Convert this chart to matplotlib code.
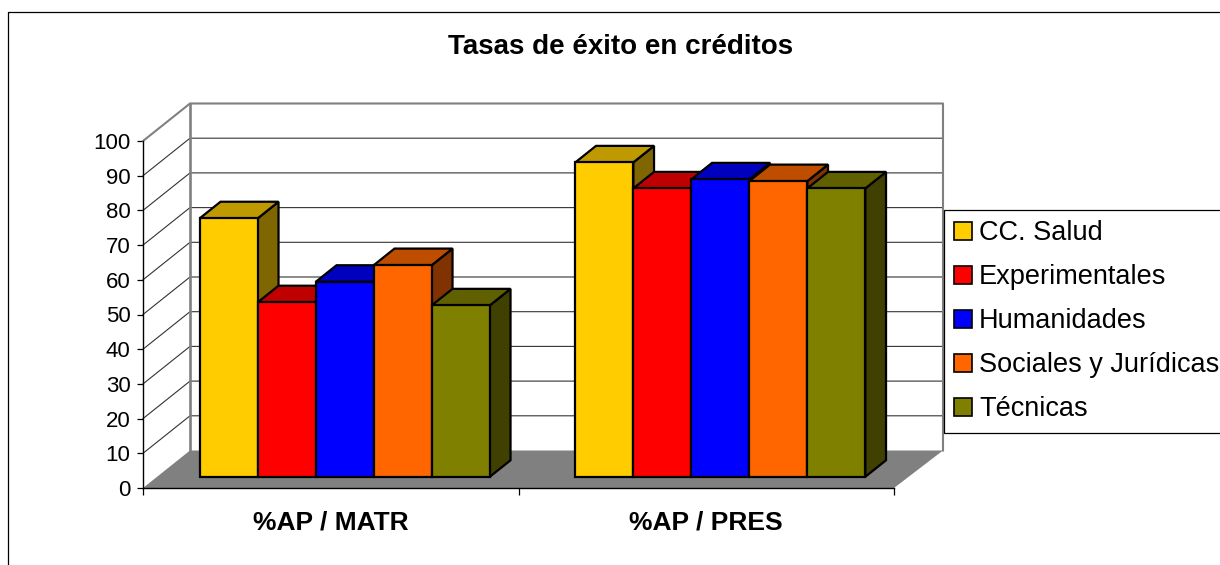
import matplotlib
matplotlib.use('Agg')
import matplotlib.pyplot as plt
from matplotlib.lines import Line2D
from matplotlib.patches import Patch, Polygon

plt.rcParams['font.family'] = ['Liberation Sans', 'DejaVu Sans']

# Datos
categorias = ['%AP / MATR', '%AP / PRES']
series = ['CC. Salud', 'Experimentales', 'Humanidades', 'Sociales y Jurídicas', 'Técnicas']
ap_matr = [74.5, 50.3, 56.2, 61.0, 49.4]
ap_pres = [90.6, 83.1, 85.7, 85.2, 83.1]
valores_y = [0, 10, 20, 30, 40, 50, 60, 70, 80, 90, 100]

colores = ['#FFCC00', '#FF0000', '#0000FF', '#FF6600', '#808000']
techos = ['#BF9900', '#BF0000', '#0000BF', '#BF4D00', '#606000']
lados = ['#806600', '#800000', '#000080', '#803300', '#404000']

W, H = 1220, 565
fig = plt.figure(figsize=(W / 100, H / 100), dpi=100)
ax = fig.add_axes([143 / W, 1 - 488 / H, 751 / W, 347 / H])
ax.set_xlim(0, 2)
ax.set_ylim(0, 100)
ax.patch.set_visible(False)

# Profundidad del falso 3D, en unidades de los ejes
prof_x = 47 / 375.5
prof_y = 37.5 / 3.47
fin_x = 2 + 49 / 375.5
gris = '#808080'

# Paredes y suelo
ax.add_patch(Polygon([(0, 0), (prof_x, prof_y), (prof_x, 100 + prof_y), (0, 100)],
                     facecolor='white', edgecolor='none', clip_on=False, zorder=1))
ax.add_patch(Polygon([(0, 0), (2, 0), (fin_x, prof_y), (prof_x, prof_y)],
                     facecolor=gris, edgecolor='none', clip_on=False, zorder=1))

# Rejilla en las paredes
for v in valores_y[1:-1]:
    ax.plot([0, prof_x, fin_x], [v, v + prof_y, v + prof_y], color='#333333', lw=0.8,
            clip_on=False, zorder=2)
ax.plot([0, prof_x, fin_x, fin_x], [100, 100 + prof_y, 100 + prof_y, prof_y],
        color=gris, lw=1.5, clip_on=False, zorder=2)
ax.plot([prof_x, prof_x], [prof_y, 100 + prof_y], color=gris, lw=1.9, clip_on=False, zorder=2)

# Barras
ancho = 58 / 375.5
z_frente = 0.30
z_fondo = 0.74


def barra(x0, valor, i, orden):
    x1 = x0 + ancho
    base = z_frente * prof_y
    dx = (z_fondo - z_frente) * prof_x
    dy = (z_fondo - z_frente) * prof_y
    estilo = dict(edgecolor='black', lw=1.6, joinstyle='miter', clip_on=False, zorder=orden)
    ax.add_patch(Polygon([(x1, base), (x1 + dx, base + dy), (x1 + dx, base + valor + dy), (x1, base + valor)],
                         facecolor=lados[i], **estilo))
    ax.add_patch(Polygon([(x0, base + valor), (x1, base + valor), (x1 + dx, base + valor + dy), (x0 + dx, base + valor + dy)],
                         facecolor=techos[i], **estilo))
    ax.add_patch(Polygon([(x0, base), (x1, base), (x1, base + valor), (x0, base + valor)],
                         facecolor=colores[i], **estilo))


orden = 3
for g, grupo in enumerate([ap_matr, ap_pres]):
    inicio = g + 0.5 - ancho * len(grupo) / 2 + z_frente * prof_x
    for i, valor in enumerate(grupo):
        barra(inicio + i * ancho, valor, i, orden)
        orden += 1

# Ejes
for lado in ['top', 'right']:
    ax.spines[lado].set_visible(False)
for lado in ['left', 'bottom']:
    ax.spines[lado].set_linewidth(1.0)
    ax.spines[lado].set_zorder(30)
ax.set_yticks(valores_y)
ax.tick_params(axis='y', length=4, width=0.9, pad=5, labelsize=16)
ax.set_xticks([0, 1, 2])
ax.set_xticklabels([])
ax.set_xticks([0.5, 1.5], minor=True)
ax.set_xticklabels(categorias, minor=True, fontweight='bold', fontsize=19)
ax.tick_params(axis='x', which='major', length=5, width=0.9)
ax.tick_params(axis='x', which='minor', length=0, pad=16.5)

fig.text(621 / W, 1 - 47 / H, 'Tasas de éxito en créditos', fontsize=20, fontweight='bold',
         ha='center', va='center')

# Leyenda
manejadores = [Patch(facecolor=c, edgecolor='black', lw=1.2) for c in colores]
ley = fig.legend(manejadores, series, loc='upper left', bbox_to_anchor=(944 / W, 1 - 210 / H),
                 bbox_transform=fig.transFigure, borderaxespad=0, fontsize=19.5, fancybox=False,
                 edgecolor='black', framealpha=1, handlelength=0.64, handleheight=0.64,
                 handletextpad=0.27, labelspacing=0.665, borderpad=0.38)
ley.get_frame().set_linewidth(0.9)

# Borde del gráfico, cortado por la imagen
fig.add_artist(Line2D([8 / W, 8 / W, 1], [0, 1 - 12 / H, 1 - 12 / H], color='black', lw=0.9))

plt.savefig('out.png', dpi=100)
